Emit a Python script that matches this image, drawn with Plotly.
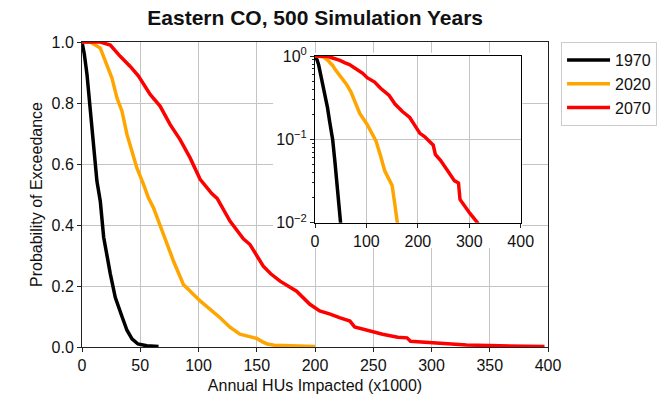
import plotly.graph_objects as go

# ---- data ----
series_names = ["1970", "2020", "2070"]
series_colors = ["#000000", "#FFA500", "#FF0000"]

x_1970 = [0, 2, 4.3, 7.1, 10, 12.8, 15.7, 18.6, 24.3, 28.6, 34.3, 38.6, 42.9, 48, 55.7, 65.7]
y_1970 = [1.0, 0.96, 0.893, 0.784, 0.642, 0.544, 0.478, 0.36, 0.24, 0.162, 0.1, 0.055, 0.027, 0.01, 0.004, 0.002]

x_2020 = [0, 7.1, 15.7, 20, 25.7, 30, 34.3, 38.6, 42.8, 47.1, 52.8, 57, 61.4, 70, 78.5, 87, 101.4,
          118.5, 127, 135.6, 142, 150, 155, 159, 165, 180, 200]
y_2020 = [1.0, 1.0, 0.98, 0.937, 0.882, 0.817, 0.773, 0.697, 0.642, 0.587, 0.533, 0.489, 0.456, 0.369,
          0.282, 0.205, 0.151, 0.096, 0.065, 0.042, 0.035, 0.028, 0.017, 0.01, 0.006, 0.004, 0.002]

x_2070 = [0, 15.7, 24.3, 32.8, 41.4, 48.5, 58.5, 67, 75.7, 84.2, 92.8, 101.4, 111.4, 116, 127, 138.5,
          144.2, 155.6, 162, 170, 184.2, 195.6, 204, 213, 221, 230, 234, 244, 258, 271, 279, 282, 301,
          316, 330, 358, 397]
y_2070 = [1.0, 1.0, 0.99, 0.953, 0.92, 0.888, 0.828, 0.79, 0.729, 0.68, 0.62, 0.55, 0.503, 0.487, 0.413,
          0.355, 0.336, 0.265, 0.24, 0.216, 0.183, 0.14, 0.118, 0.108, 0.096, 0.085, 0.066, 0.056, 0.042,
          0.032, 0.03, 0.019, 0.013, 0.01, 0.0066, 0.004, 0.002]

xs = [x_1970, x_2020, x_2070]
ys = [y_1970, y_2020, y_2070]

main_x_ticks = [0, 50, 100, 150, 200, 250, 300, 350, 400]
main_y_ticks = [0.0, 0.2, 0.4, 0.6, 0.8, 1.0]
inset_x_ticks = [0, 100, 200, 300, 400]
inset_y_ticks = [0.01, 0.1, 1]
inset_y_labels = ["10<sup>\u22122</sup>", "10<sup>\u22121</sup>", "10<sup>0</sup>"]

FONT = "Liberation Sans, Arial, sans-serif"
GRID = "#c4c4c4"
AX = "#222222"

fig = go.Figure()
for name, col, xv, yv in zip(series_names, series_colors, xs, ys):
    fig.add_trace(go.Scatter(x=xv, y=yv, mode="lines", name=name,
                             line=dict(color=col, width=3.5),
                             xaxis="x", yaxis="y", showlegend=True))
for name, col, xv, yv in zip(series_names, series_colors, xs, ys):
    fig.add_trace(go.Scatter(x=xv, y=yv, mode="lines", name=name,
                             line=dict(color=col, width=3.5),
                             xaxis="x2", yaxis="y2", showlegend=False))

fig.update_layout(
    width=672, height=394,
    margin=dict(l=82, r=124, t=42, b=47),
    paper_bgcolor="white", plot_bgcolor="white",
    font=dict(family=FONT, size=16, color="#111111"),
    title=dict(text="<b>Eastern CO, 500 Simulation Years</b>", x=0.469, xanchor="center",
               y=0.955, yref="container", yanchor="middle",
               font=dict(size=21, family=FONT, color="#111111")),
    xaxis=dict(domain=[0, 1], range=[0, 400], tickvals=main_x_ticks, automargin=False,
               showgrid=True, gridcolor=GRID, gridwidth=1,
               showline=True, linecolor=AX, linewidth=1, mirror=True,
               ticks="outside", ticklen=4, tickcolor=AX, zeroline=False,
               title=dict(text="Annual HUs Impacted (x1000)", font=dict(size=16))),
    yaxis=dict(domain=[0, 1], range=[0, 1], tickvals=main_y_ticks, tickformat=".1f",
               automargin=False,
               showgrid=True, gridcolor=GRID, gridwidth=1,
               showline=True, linecolor=AX, linewidth=1, mirror=True,
               ticks="outside", ticklen=4, tickcolor=AX, zeroline=False,
               title=dict(text="Probability of Exceedance", font=dict(size=16), standoff=4)),
    xaxis2=dict(domain=[0.5, 0.9414], range=[0, 400], anchor="y2", tickvals=inset_x_ticks,
                automargin=False,
                showgrid=True, gridcolor=GRID, gridwidth=1,
                showline=True, linecolor="#000000", linewidth=1, mirror=True,
                ticks="outside", ticklen=4, tickcolor=AX, zeroline=False),
    yaxis2=dict(domain=[0.4075, 0.954], type="log", range=[-2, 0], anchor="x2",
                tickvals=inset_y_ticks, ticktext=inset_y_labels, automargin=False,
                showgrid=True, gridcolor=GRID, gridwidth=1,
                showline=True, linecolor="#000000", linewidth=1, mirror=True,
                ticks="outside", ticklen=4, tickcolor=AX, zeroline=False,
                minor=dict(ticks="outside", ticklen=2, tickcolor=AX, dtick="D1",
                           showgrid=False)),
    legend=dict(x=1.028, y=1.0, xanchor="left", yanchor="top",
                bordercolor="#cccccc", borderwidth=1, bgcolor="white",
                font=dict(size=16), tracegroupgap=0, itemwidth=43),
    shapes=[dict(type="rect", xref="x", yref="y",
                 x0=164, x1=378, y0=0.325, y1=0.965,
                 fillcolor="white", line=dict(width=0), layer="between")],
)

fig.write_html("out.html")
